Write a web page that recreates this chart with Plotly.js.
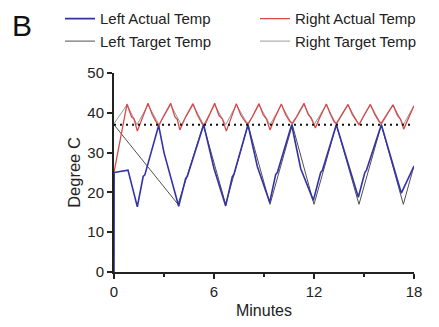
<!DOCTYPE html>
<html>
<head>
<meta charset="utf-8">
<script src="https://cdn.plot.ly/plotly-3.0.1.min.js"></script>
<style>html,body{margin:0;padding:0;background:#fff;}#chart{width:439px;height:327px;}</style>
</head>
<body>
<div id="chart"></div>
<script>
// Left actual temperature
const leftActualMin = [0,0.01,0.84,1.4,1.75,1.85,2.68,3.0,3.88,4.3,4.4,5.38,6.0,6.7,7.1,7.2,8.04,8.6,9.34,9.7,9.8,10.66,11.2,11.96,12.4,12.5,13.34,14.66,15.05,15.15,16.04,17.24,18];
const leftActualC   = [0,25,25.6,16.4,24,24.4,36.8,30,16.5,23.5,24,37,26,16.6,24,24.6,37,26.5,17.5,24.5,25,37,26,18,25,25.5,37,18.8,25,25.6,37,19.8,26.6];
// Left target temperature
const leftTargetMin = [0,3.84,5.36,6.7,8.04,9.36,10.7,12.0,13.34,14.7,16.04,17.36,18];
const leftTargetC   = [37,17,37,17,37,17,37,17,37,17,37,17,26.7];
// Right actual temperature
const rightActualMin = [0,0.78,1.05,1.2,1.4,1.7,2.04,2.3,2.55,2.7,2.85,3.4,3.65,3.8,3.95,4.3,4.74,5.0,5.3,5.45,5.6,6.04,6.3,6.5,6.74,7.0,7.34,7.6,7.9,8.05,8.3,8.7,8.95,9.15,9.36,9.65,10.04,10.3,10.55,10.7,10.95,11.4,11.65,11.85,12.08,12.35,12.74,13.0,13.2,13.34,13.6,14.04,14.3,14.55,14.7,14.95,15.38,15.65,15.9,16.04,16.3,16.74,17.0,17.2,17.38,17.65,18];
const rightActualC   = [25,42.2,39,38.5,35.4,38.8,42.4,39.5,37.5,36.8,38.2,42.4,39,38.3,35.7,39,42.3,39.5,37.2,36.9,38.3,42.4,39.3,38.5,35.4,38.5,42.3,39.5,37.6,37.3,39,42.3,39.5,38.4,35.7,38.7,42.2,39.5,37.8,37.4,39,42.4,39.6,38.6,36.2,38.8,42.2,39.5,37.8,37.3,39,42.1,39.6,37.8,37,39,42.1,39.6,37.8,37.4,39,42,39.4,38.3,35.9,38.5,41.8];
// Right target temperature
const rightTargetMin = [0,0.78,1.38,2.04,2.7,3.4,4.04,4.74,5.38,6.04,6.7,7.34,8.04,8.7,9.36,10.04,10.7,11.4,12.0,12.74,13.34,14.04,14.7,15.38,16.04,16.74,17.36,18];
const rightTargetC   = [37.3,42,37,42,37,42,37,42,37,42,37,42,37,42,37,42,37,42,37,42,37,42,37,42,37,42,37,41.8];
// Body temperature reference line
const refMin = [0,18];
const refC = [37,37];

const xTicks = [0,6,12,18];
const yTicks = [0,10,20,30,40,50];

const FONT = 'Liberation Sans, Arial, sans-serif';

const traces = [
  {x: rightTargetMin, y: rightTargetC, name: 'Right Target Temp', mode: 'lines', legendrank: 4,
   line: {color: '#9a9a9a', width: 1}},
  {x: leftTargetMin, y: leftTargetC, name: 'Left Target Temp', mode: 'lines', legendrank: 3,
   line: {color: '#505050', width: 1}},
  {x: rightActualMin, y: rightActualC, name: 'Right Actual Temp', mode: 'lines', legendrank: 2,
   line: {color: '#d94848', width: 1.3}},
  {x: leftActualMin, y: leftActualC, name: 'Left Actual Temp', mode: 'lines', legendrank: 1,
   line: {color: '#3333a8', width: 1.6}},
  {x: refMin, y: refC, mode: 'lines', showlegend: false, hoverinfo: 'skip',
   line: {color: '#111', width: 2, dash: '2px,4px'}}
];

const layout = {
  width: 439, height: 327,
  margin: {l: 114, r: 25, t: 73, b: 55, autoexpand: false},
  paper_bgcolor: '#fff', plot_bgcolor: '#fff',
  font: {family: FONT, size: 14, color: '#222'},
  showlegend: true,
  legend: {
    orientation: 'h', x: -0.18, xanchor: 'left', y: 1.355, yanchor: 'top',
    entrywidth: 150, entrywidthmode: 'pixels',
    font: {family: FONT, size: 15, color: '#222'},
    bgcolor: 'rgba(0,0,0,0)', traceorder: 'normal'
  },
  xaxis: {
    range: [0, 18], tickvals: xTicks, ticktext: xTicks.map(String),
    showgrid: false, zeroline: false, showline: true, linecolor: '#222', linewidth: 2,
    ticks: 'outside', ticklen: 5, tickwidth: 2, tickcolor: '#222',
    minor: {dtick: 3, tick0: 0, ticks: 'outside', ticklen: 3, tickwidth: 2, tickcolor: '#222', showgrid: false},
    tickfont: {size: 15, color: '#222'},
    title: {text: 'Minutes', font: {size: 16, color: '#222'}, standoff: 6}
  },
  yaxis: {
    range: [0, 50], tickvals: yTicks, ticktext: yTicks.map(String),
    showgrid: false, zeroline: false, showline: true, linecolor: '#222', linewidth: 2,
    ticks: 'outside', ticklen: 5, tickwidth: 2, tickcolor: '#222',
    tickfont: {size: 15, color: '#222'},
    title: {text: 'Degree C', font: {size: 16.5, color: '#222'}, standoff: 3}
  },
  annotations: [
    {text: 'B', xref: 'paper', yref: 'paper', x: -0.307, y: 1.24, xanchor: 'center', yanchor: 'middle',
     showarrow: false, font: {family: FONT, size: 30, color: '#111'}}
  ]
};

Plotly.newPlot('chart', traces, layout, {displayModeBar: false, staticPlot: true});
</script>
</body>
</html>
